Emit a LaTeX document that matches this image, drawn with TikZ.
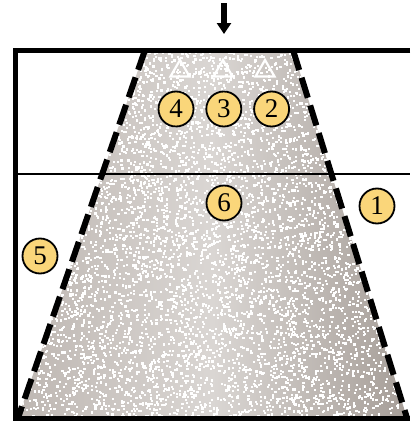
\documentclass[tikz,border=0pt]{standalone}
\usepackage{fontspec}
\setmainfont{Liberation Serif}
\usetikzlibrary{arrows.meta, shapes.geometric, positioning}
\definecolor{markeryellow}{RGB}{250, 214, 122}
\definecolor{plumeedge}{RGB}{190, 183, 178}
\definecolor{plumecore}{RGB}{218, 214, 211}
\definecolor{plumeright}{RGB}{166, 158, 152}

\begin{document}
\begin{tikzpicture}[x=1pt, y=-1pt]
    % Define styles
    \tikzstyle{marker} = [circle, draw, line width=1.8pt, fill=markeryellow, minimum size=35pt, inner sep=0pt, font=\fontsize{27}{27}\selectfont]
    \tikzstyle{vent} = [regular polygon, regular polygon sides=3, draw=white, line width=2.2pt, minimum size=22pt, inner sep=0pt]
    \tikzstyle{wall} = [line width=5pt, line join=miter]
    \tikzstyle{edge} = [line width=6pt, dash pattern=on 21pt off 8pt]

    \useasboundingbox (0,0) rectangle (410,423);

    % Corners
    \coordinate (tl) at (15.5,50);
    \coordinate (tr) at (410,50);
    \coordinate (bl) at (15.5,418);
    \coordinate (br) at (410,418);
    \coordinate (ml) at (15.5,174);
    \coordinate (mr) at (410,174);
    \coordinate (pt1) at (145,50);
    \coordinate (pt2) at (293,50);
    \coordinate (pb1) at (18,418);
    \coordinate (pb2) at (407,418);
    \coordinate (inlet) at (224,3);
    \coordinate (mouth) at (224,34);

    % Plume, with speckles
    \shade[left color=plumeedge, right color=plumeright, middle color=plumecore] (pt1) -- (pt2) -- (pb2) -- (pb1) -- cycle;
    \begin{scope}
        \clip (pt1) -- (pt2) -- (pb2) -- (pb1) -- cycle;
        \pgfmathsetseed{7}
        \foreach \i in {1,...,7000}
            \fill[white] (18+rnd*380, 50+rnd*368) rectangle ++(2.2,2.2);
    \end{scope}

    % Walls
    \draw[line width=1.5pt] (ml) -- (mr);
    \draw[wall] (tr) -- (tl) -- (bl) -- (br);
    \draw[edge] (pt1) -- (pb1);
    \draw[edge] (pt2) -- (pb2);
    \draw[line width=5.5pt, -{Triangle[width=14pt, length=11pt]}] (inlet) -- (mouth);

    % Nodes
    \node[vent] (t4) at (180,71) {};
    \node[vent] (t3) at (223,71) {};
    \node[vent] (t2) at (265,71) {};
    \node[marker] (m4) at (176,109) {4};
    \node[marker, right=11pt of m4] (m3) {3};
    \node[marker, right=11pt of m3] (m2) {2};
    \node[marker] (m6) at (224,203) {6};
    \node[marker] (m1) at (377,206) {1};
    \node[marker] (m5) at (40,256) {5};
\end{tikzpicture}
\end{document}
